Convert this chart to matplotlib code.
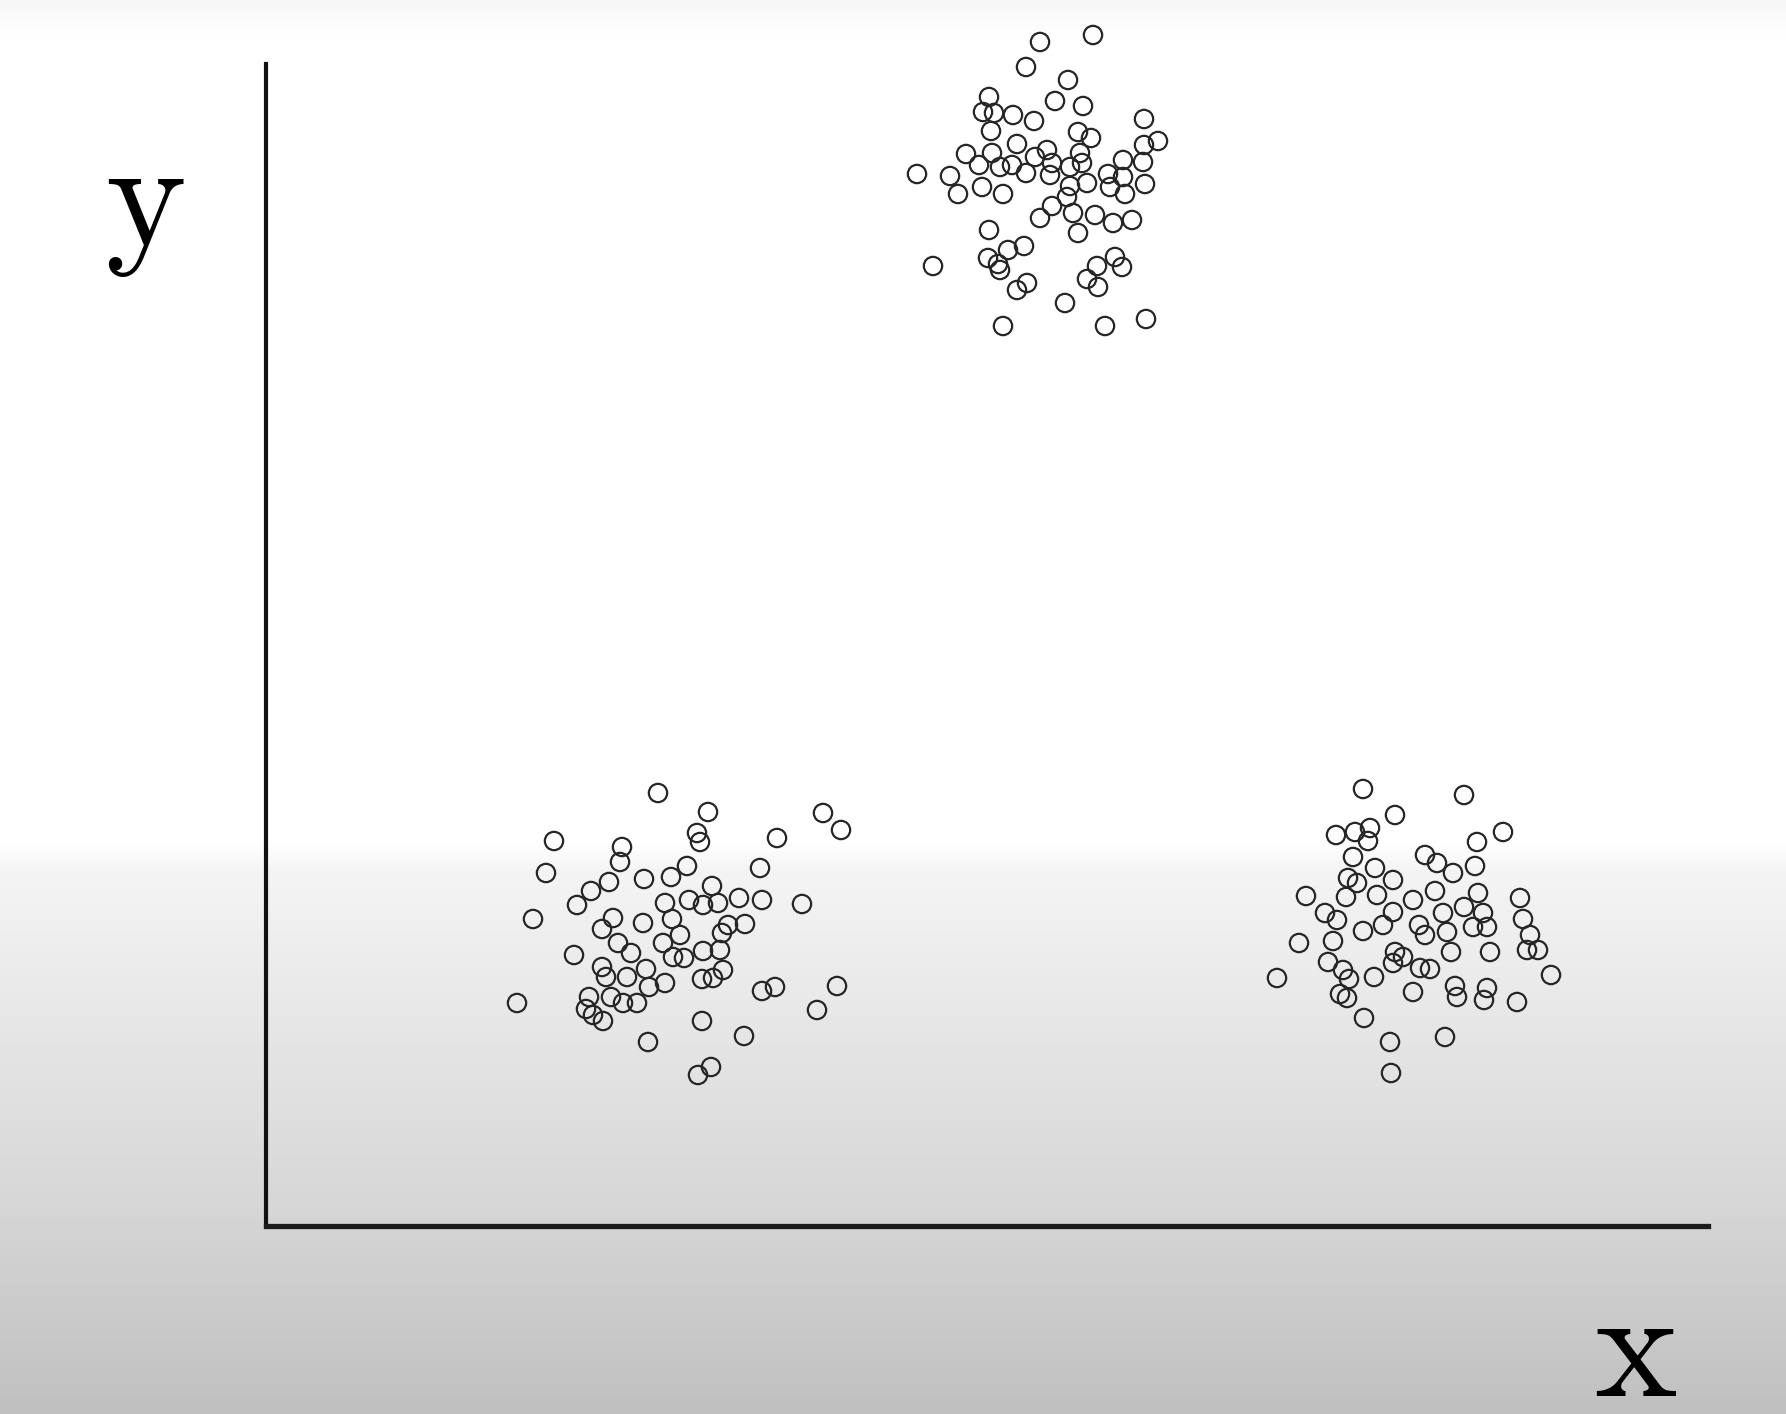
import numpy as np
import matplotlib
matplotlib.use('Agg')
import matplotlib.pyplot as plt

plt.rcParams['mathtext.fontset'] = 'cm'

# three clusters (axis units, origin at the corner)
top_x = [77.4, 82.7, 76.0, 80.2, 78.9, 81.7, 72.3, 71.7, 72.8, 74.7, 76.8, 72.5, 87.8, 81.2, 82.5,
         89.2, 87.8, 70.0, 72.6, 75.1, 78.1, 81.4, 71.3, 73.4, 74.6, 76.0, 76.9, 78.6, 78.4, 80.4,
         81.6, 85.7, 87.7, 65.1, 68.4, 69.2, 71.6, 73.7, 84.2, 85.7, 82.1, 80.4, 84.4, 85.9, 87.9,
         78.6, 77.4, 80.1, 80.7, 82.9, 84.7, 86.6, 81.2, 72.3, 74.2, 75.8, 72.2, 73.2, 73.4, 66.7,
         84.9, 85.6, 83.1, 82.1, 83.2, 75.1, 76.1, 79.9, 73.7, 83.9, 88.0]
top_y = [118.4, 119.1, 115.9, 114.6, 112.5, 112.0, 112.9, 111.4, 111.3, 111.1, 110.5, 109.5, 110.7,
         109.4, 108.8, 108.5, 108.1, 107.2, 107.3, 108.2, 107.6, 107.3, 106.1, 105.9, 106.1, 105.3,
         106.9, 106.3, 105.1, 105.9, 106.3, 106.6, 106.4, 105.2, 105.0, 103.2, 103.9, 103.2, 105.2,
         104.9, 104.3, 104.0, 103.9, 103.2, 104.2, 102.0, 100.8, 102.9, 101.3, 101.1, 100.3, 100.6,
         99.3, 99.6, 97.6, 98.0, 96.8, 96.2, 95.6, 96.0, 96.9, 95.9, 96.0, 94.7, 93.9, 93.6, 94.3,
         92.3, 90.0, 90.0, 90.7]

left_x = [39.2, 44.2, 55.7, 57.5, 28.8, 35.6, 43.1, 43.4, 51.1, 28.0, 35.4, 34.3, 32.5, 31.1, 37.8,
          40.5, 42.1, 44.6, 49.4, 39.9, 42.3, 43.7, 45.2, 47.3, 49.6, 53.6, 26.7, 34.7, 33.6, 37.7,
          40.6, 41.4, 46.2, 47.9, 45.6, 35.2, 36.5, 39.7, 40.7, 41.8, 43.7, 45.4, 30.8, 33.6, 34.0,
          36.1, 38.0, 38.3, 39.9, 43.6, 44.7, 45.7, 32.3, 32.0, 34.5, 35.7, 37.1, 33.7, 32.7, 25.1,
          49.6, 50.9, 57.1, 55.1, 43.6, 47.8, 38.2, 43.2, 44.5]
left_y = [43.3, 41.4, 41.3, 39.6, 38.5, 37.9, 39.3, 38.4, 38.8, 35.3, 36.4, 34.4, 33.5, 32.1, 34.7,
          34.9, 36.0, 34.0, 35.8, 32.3, 32.6, 32.1, 32.3, 32.8, 32.6, 32.2, 30.7, 30.8, 29.7, 30.3,
          30.7, 29.1, 30.1, 30.2, 29.3, 28.3, 27.3, 28.3, 26.9, 26.8, 27.5, 27.6, 27.1, 25.9, 24.9,
          24.9, 25.7, 23.9, 24.3, 24.7, 24.8, 25.6, 22.9, 21.7, 22.9, 22.3, 22.3, 20.5, 21.1, 22.3,
          23.5, 23.9, 24.0, 21.6, 20.5, 19.0, 18.4, 15.1, 15.9]

right_x = [109.7, 119.8, 112.9, 107.0, 108.9, 110.4, 110.2, 123.7, 121.1, 115.9, 117.1, 118.7, 120.9,
           108.7, 110.9, 112.7, 108.2, 109.1, 111.1, 108.0, 104.0, 114.7, 116.9, 121.2, 125.4, 105.9,
           107.1, 111.7, 112.7, 117.7, 119.8, 121.7, 125.7, 109.7, 115.3, 115.9, 118.1, 120.7, 122.1,
           126.4, 103.3, 106.7, 118.5, 122.4, 126.1, 127.2, 112.9, 112.7, 113.7, 106.2, 107.7, 108.3,
           110.8, 115.4, 116.4, 114.7, 118.9, 119.1, 122.1, 121.8, 125.1, 128.5, 101.1, 107.4, 108.1,
           109.8, 112.4, 117.9, 112.5]
right_y = [43.7, 43.1, 41.1, 39.1, 39.4, 39.8, 38.5, 39.4, 38.4, 37.1, 36.3, 35.3, 36.0, 36.9, 35.8,
           34.6, 34.8, 34.3, 33.1, 32.9, 33.0, 32.6, 33.5, 33.3, 32.8, 31.3, 30.6, 30.1, 31.4, 31.3,
           31.9, 31.3, 30.7, 29.5, 30.1, 29.1, 29.4, 29.9, 29.9, 29.1, 28.3, 28.5, 27.4, 27.4, 27.6,
           27.6, 27.4, 26.3, 26.9, 26.4, 25.6, 24.7, 24.9, 25.8, 25.7, 23.4, 24.0, 22.9, 23.8, 22.6,
           22.4, 25.1, 24.8, 23.2, 22.8, 20.8, 18.4, 18.9, 15.3]

W, H = 1786, 1414
fig = plt.figure(figsize=(W / 100, H / 100), dpi=100)

# background: white top, grey fade at the bottom (video frame look)
bg = fig.add_axes([0, 0, 1, 1], zorder=-10)
rows = np.arange(H)
shade = np.interp(rows, [0, 22, 45, 840, 870, 1000, 1200, 1414],
                  [0.965, 0.985, 1.0, 1.0, 0.955, 0.91, 0.84, 0.75])
bg.imshow(shade[:, None], cmap='gray', vmin=0, vmax=1, aspect='auto',
          extent=[0, 1, 0, 1], origin='upper')
bg.axis('off')

ax = fig.add_axes([266 / W, (H - 1226) / H, (1708 - 266) / W, (1226 - 64) / H])
ax.patch.set_alpha(0)
ax.set_xlim(0, 144.2)
ax.set_ylim(0, 116.2)
for side in ['top', 'right']:
    ax.spines[side].set_visible(False)
ax.spines['left'].set_linewidth(3.0)
ax.spines['bottom'].set_linewidth(3.8)
ax.spines['left'].set_color('#111111')
ax.spines['bottom'].set_color('#1a1a1a')
ax.set_xticks([])
ax.set_yticks([])

for xs, ys in [(top_x, top_y), (left_x, left_y), (right_x, right_y)]:
    ax.scatter(xs, ys, s=13.2 ** 2, facecolors='none', edgecolors='#262626',
               linewidths=1.6, clip_on=False, zorder=3)

fig.text(145 / W, (H - 245) / H, r'$\mathrm{y}$', fontsize=110, ha='center', va='baseline')
fig.text(1636 / W, (H - 1396) / H, r'$\mathrm{x}$', fontsize=113, ha='center', va='baseline')

fig.savefig('out.png', dpi=100)
